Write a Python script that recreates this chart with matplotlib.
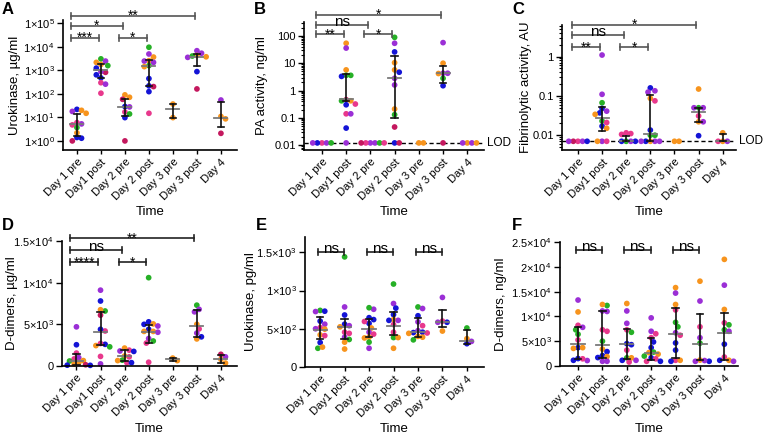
import numpy as np
import matplotlib
matplotlib.use('Agg')
import matplotlib.pyplot as plt
import matplotlib.transforms as mtransforms
from matplotlib.ticker import LogLocator, NullFormatter

plt.rcParams['font.family'] = ['Liberation Sans', 'DejaVu Sans']
plt.rcParams['mathtext.default'] = 'regular'

days = ['Day 1 pre', 'Day1 post', 'Day 2 pre', 'Day 2 post', 'Day 3 pre', 'Day 3 post', 'Day 4']

# one colour per subject
palette = {'B': '#1414d6', 'O': '#f7941d', 'G': '#26b026', 'P': '#9b2fd6',
           'M': '#e8388c', 'R': '#c4185e'}
nan = np.nan

# A - urokinase ug/ml (log)
a_vals = [[22, 18, 15, 20, 5.3, 4.8, 6, 3.7, 2.2, 1.3, 1.4, 1.0],
          [3100, 1800, 2200, 2500, 1250, 1600, 830, 900, 650, 480, 300, 260, 107],
          [91, 72, 59, 29, 28, 17, 14, 9.8, 1.0],
          [9700, 3700, 5000, 2600, 2200, 2500, 1600, 1450, 450, 220, 205, 125, 15],
          [37, 9.8],
          [6900, 5400, 4300, 4100, 3600, 3800, 890, 163],
          [55, 11, 8.7, 2.1]]
a_cols = ['BPOOPMMGOBBR', 'GOOPBGRPBBMPM', 'OORBPMGBR', 'GOPOPPGOBBRBM', 'OO', 'PPOGPOBR', 'POOR']
a_med = [5.1, 1000, 28, 1600, 23, 3900, 9.8]
a_q1 = [1.6, 470, 11.5, 220, 9.8, 1550, 3.8]
a_q3 = [14, 1800, 62, 2800, 37, 4800, 44]
a_sig = [(0, 1, '***', 0), (2, 3, '*', 0), (0, 2, '*', 1), (0, 5, '**', 2)]

# B - PA activity ng/ml (log), LOD 0.012
b_lod = 0.012
b_vals = [[0.012] * 5,
          [54, 36, 5.7, 3.6, 3.6, 3.3, 0.46, 0.42, 0.42, 0.32, 0.30, 0.14, 0.14, 0.042, 0.012],
          [0.012] * 6,
          [89, 54, 26, 10.5, 5.7, 4.7, 2.8, 1.6, 0.21, 0.13, 0.046, 0.012, 0.012],
          [0.012] * 2,
          [57, 10, 4.3, 4.3, 4.2, 2.8, 1.5, 0.012],
          [0.012] * 4]
b_cols = ['MPBGP', 'OPOGGBROGMBMPBP', 'PPMGRM', 'GPBOOBPPOGRBR', 'OO', 'POPPOGBR', 'OPPO']
b_med = [nan, 0.48, nan, 3, nan, 4.4, nan]
b_q1 = [nan, 0.4, nan, 0.1, nan, 1.9, nan]
b_q3 = [nan, 4, nan, 18.5, nan, 8, nan]
b_sig = [(0, 1, '**', 0), (2, 3, '*', 0), (0, 2, 'ns', 1), (0, 5, '*', 2)]

# C - fibrinolytic activity AU (log), LOD 0.007
c_lod = 0.007
c_vals = [[0.007] * 5,
          [1.1, 0.11, 0.067, 0.048, 0.041, 0.037, 0.034, 0.023, 0.021, 0.017, 0.015, 0.007, 0.007, 0.007],
          [0.007, 0.007, 0.0105, 0.011, 0.0115, 0.007, 0.007],
          [0.16, 0.135, 0.125, 0.087, 0.075, 0.0135, 0.010, 0.010, 0.007, 0.007, 0.007, 0.007, 0.007],
          [0.007] * 2,
          [0.15, 0.05, 0.05, 0.05, 0.031, 0.022, 0.022, 0.0097],
          [0.0115, 0.007, 0.007, 0.007]]
c_cols = ['MPRBP', 'PPGBPBOGMBOPMO', 'GPMMMBB', 'BPPOMBGGOPBPP', 'OO', 'OGPPMOPB', 'OOPM']
c_med = [nan, 0.028, 0.007, 0.011, nan, 0.039, 0.007]
c_q1 = [nan, 0.013, 0.007, 0.007, nan, 0.022, 0.007]
c_q3 = [nan, 0.053, 0.0097, 0.105, nan, 0.05, 0.0105]
c_sig = [(0, 1, '**', 0), (2, 3, '*', 0), (0, 2, 'ns', 1), (0, 5, '*', 2)]

# D - D-dimers ug/ml
d_vals = [[4700, 2550, 1550, 1000, 850, 650, 400, 600, 250, 150, 80, 100],
          [9100, 7800, 6600, 6750, 6100, 4200, 4400, 2450, 2600, 2300, 2700, 1150, 250],
          [1900, 2150, 1800, 1750, 1100, 1200, 700, 650, 400, 400],
          [10600, 5300, 5050, 5000, 4800, 4400, 4150, 4150, 4050, 3300, 3000, 2750, 450],
          [650, 950],
          [7300, 6800, 6500, 5000, 4450, 3950, 3250, 3500],
          [1100, 1400, 800, 350]]
d_cols = ['PBMPMOOGORBB', 'PBGORMBOBGMMP', 'MOPBMOGOMB', 'GBOBPBOOPPGMM', 'OO', 'GPPOMPOB', 'PROO']
d_med = [600, 4100, 1250, 4100, 800, 4750, 880]
d_q1 = [80, 2570, 560, 2770, 650, 3450, 400]
d_q3 = [1490, 6500, 1890, 4900, 950, 6670, 1290]
d_sig = [(0, 1, '****', 0), (2, 3, '*', 0), (0, 2, 'ns', 1), (0, 5, '**', 2)]

# E - urokinase pg/ml
e_vals = [[740, 725, 730, 600, 560, 515, 500, 495, 420, 410, 320, 245, 260],
          [1440, 785, 680, 560, 540, 525, 455, 440, 390, 360, 325, 235],
          [755, 775, 645, 620, 570, 595, 510, 455, 430, 390, 380, 325, 245],
          [1085, 830, 770, 685, 620, 610, 610, 555, 455, 385, 385, 245],
          [785, 765, 670, 590, 540, 475, 455, 450, 445, 440, 400, 390, 355],
          [910, 585, 600, 585, 470],
          [510, 370, 305, 335]]
e_cols = ['GPBBPMPOOMBGO', 'GPBBPOMMPGOO', 'PGBBBMOPMOOGP', 'GPBBOPBMMGOO', 'GPBPMPBBMOOOG', 'PBMPO', 'GOBP']
e_med = [483, 517, 496, 539, 455, 590, 336]
e_q1 = [366, 360, 388, 422, 390, 521, 306]
e_q3 = [659, 625, 625, 720, 645, 746, 478]
e_sig = [(0, 1, 'ns', 0), (2, 3, 'ns', 0), (4, 5, 'ns', 0)]

# F - D-dimers ng/ml
f_vals = [[13300, 10900, 8200, 7800, 7300, 6400, 5250, 3700, 3700, 3550, 1500, 1150, 1100, 1450],
          [12200, 12400, 11000, 11100, 7300, 7000, 5000, 3400, 2900, 2100, 1900, 1700, 950, 950],
          [12600, 11100, 8600, 7300, 6800, 4300, 4500, 3200, 1650, 1650, 800, 1150, 1150],
          [9700, 7000, 6500, 5700, 4850, 3700, 2800, 2700, 2000, 2400, 1650, 1450, 950, 950],
          [15800, 14700, 12400, 11300, 8800, 7900, 6700, 6200, 4650, 3200, 1150, 1150, 950],
          [17100, 13100, 7900, 5700, 4600, 1200, 950, 950, 1100],
          [21500, 16300, 11400, 8700, 8300, 7300, 7000, 4400, 1800, 1150, 1150, 950]]
f_cols = ['POMPGGMBOOBBPM', 'GOPPMMGOBBOBPP', 'OPPMGBBMGOMBP', 'PPMMBBGOGOBMMB', 'OPOMGGPMBBMOB', 'OPMPGOPBP', 'OPOMGGPBMOBP']
f_med = [4370, 4230, 4370, 2620, 6380, 4500, 6720]
f_q1 = [1500, 1680, 1480, 1280, 1610, 1140, 1140]
f_q3 = [7900, 11000, 7530, 5650, 11690, 10550, 10680]
f_sig = [(0, 1, 'ns', 0), (2, 3, 'ns', 0), (4, 5, 'ns', 0)]

W, H = 766, 434
fig = plt.figure(figsize=(W / 100, H / 100), dpi=100)


def px_axes(left, top, right, bottom):
    return fig.add_axes([left / W, 1 - bottom / H, (right - left) / W, (bottom - top) / H])


def swarm_x(ax, i, vals, d=4.6):
    # simple beeswarm in pixel space
    pts = ax.transData.transform(np.column_stack([np.full(len(vals), float(i)), vals]))
    ys = pts[:, 1]
    ppu = ax.transData.transform((1, 1))[0] - ax.transData.transform((0, 1))[0]
    offs = np.zeros(len(vals))
    placed = []
    for k in np.argsort(-ys, kind='stable'):
        best = None
        for step in range(60):
            for sgn in ([0] if step == 0 else [1, -1]):
                o = sgn * step * d * 0.5
                if all((o - po) ** 2 + (ys[k] - py) ** 2 >= d * d for po, py in placed):
                    best = o
                    break
            if best is not None:
                break
        offs[k] = best
        placed.append((best, ys[k]))
    return i + offs / ppu


def bracket(ax, x1, x2, yf, text, color):
    tr = mtransforms.blended_transform_factory(ax.transData, ax.transAxes)
    h = 3.0 / (ax.get_position().height * H)
    ax.plot([x1, x2], [yf, yf], transform=tr, color=color, lw=1.2, clip_on=False)
    ax.plot([x1, x1], [yf - h, yf + h], transform=tr, color=color, lw=1.2, clip_on=False)
    ax.plot([x2, x2], [yf - h, yf + h], transform=tr, color=color, lw=1.2, clip_on=False)
    if text == 'ns':
        ax.annotate(text, ((x1 + x2) / 2, yf), xycoords=tr, xytext=(0, -0.5),
                    textcoords='offset points', ha='center', va='baseline', fontsize=11)
    else:
        ax.annotate(text, ((x1 + x2) / 2, yf), xycoords=tr, xytext=(0, -3),
                    textcoords='offset points', ha='center', va='baseline', fontsize=10)


def panel(ax, vals, cols, med, q1, q3, sig, levels, log, ylim, xlim, yticks, ylabels,
          ylabel, lab_x, sig_color, wide, lod=None):
    if log:
        ax.set_yscale('log')
    ax.set_ylim(*ylim)
    ax.set_xlim(*xlim)
    for s in ['top', 'right']:
        ax.spines[s].set_visible(False)
    for s in ['left', 'bottom']:
        ax.spines[s].set_linewidth(1.2)
    ax.set_yticks(yticks)
    ax.set_yticklabels(ylabels)
    if log:
        ax.yaxis.set_minor_locator(LogLocator(base=10, subs=np.arange(2, 10)))
        ax.yaxis.set_minor_formatter(NullFormatter())
        ax.tick_params(axis='y', which='minor', length=2, width=0.8)
    ax.set_xticks(range(len(days)))
    ax.set_xticklabels(days, rotation=45, ha='right', rotation_mode='anchor')
    ax.tick_params(axis='x', length=3, width=1.0, labelsize=8, pad=2)
    ax.tick_params(axis='y', which='major', length=4, width=1.0, labelsize=8, pad=2)
    ax.set_ylabel(ylabel, fontsize=9.5)
    ax.yaxis.set_label_coords(lab_x, 0.5)
    ax.set_xlabel('Time', fontsize=9.5)
    if lod is not None:
        ax.axhline(lod, color='black', lw=1.0, ls=(0, (3, 2)), zorder=1)
        tr = mtransforms.blended_transform_factory(ax.transAxes, ax.transData)
        ax.text(1.018, lod, 'LOD', transform=tr, ha='left', va='center', fontsize=8.5)
    for i, (v, c) in enumerate(zip(vals, cols)):
        xs = swarm_x(ax, i, v)
        ax.scatter(xs, v, s=17, c=[palette[k] for k in c], linewidths=0, zorder=2, clip_on=False)
        if not np.isnan(med[i]):
            ax.plot([i - 0.27, i + 0.27], [med[i], med[i]], color='#7a7a7a', lw=1.3, zorder=3)
            ax.plot([i, i], [q1[i], q3[i]], color='#111111', lw=1.2, zorder=3)
            for q in (q1[i], q3[i]):
                ax.plot([i - 0.13, i + 0.13], [q, q], color='#111111', lw=1.2, zorder=3)
    for i, j, t, lev in sig:
        if wide:
            bracket(ax, i - 0.25, j - 0.1, levels[lev], t, sig_color)
        else:
            bracket(ax, i - 0.1, j - 0.02, levels[lev], t, sig_color)


def sci(m, e):
    return '$%s×10^{%d}$' % (m, e)


axA = px_axes(63, 20, 237, 150)
panel(axA, a_vals, a_cols, a_med, a_q1, a_q3, a_sig, [0.864, 0.956, 1.033], True,
      (0.41, 1.4e5), (-0.58, 6.67), [1, 10, 100, 1e3, 1e4, 1e5],
      [sci('1', k) for k in range(6)], 'Urokinase, µg/ml', -0.24, '#555555', True)

axB = px_axes(304, 22, 484, 150)
panel(axB, b_vals, b_cols, b_med, b_q1, b_q3, b_sig, [0.904, 0.977, 1.055], True,
      (0.0066, 325), (-0.74, 6.69), [0.01, 0.1, 1, 10, 100],
      ['0.01', '0.1', '1', '10', '100'], 'PA activity, ng/ml', -0.2, '#555555', True, b_lod)

axC = px_axes(562, 25, 736, 150)
panel(axC, c_vals, c_cols, c_med, c_q1, c_q3, c_sig, [0.82, 0.92, 1.0], True,
      (0.0042, 6.4), (-0.66, 6.55), [0.01, 0.1, 1],
      ['0.01', '0.1', '1'], 'Fibrinolytic activity, AU', -0.17, '#555555', True, c_lod)

axD = px_axes(62, 241, 237, 366)
panel(axD, d_vals, d_cols, d_med, d_q1, d_q3, d_sig, [0.83, 0.929, 1.023], False,
      (0, 15000), (-0.6, 6.67), [0, 5000, 10000, 15000],
      ['0', sci('5', 3), sci('1', 4), sci('1.5', 4)], 'D-dimers, µg/ml', -0.25, '#222222', True)

axE = px_axes(305, 237, 484, 367)
panel(axE, e_vals, e_cols, e_med, e_q1, e_q3, e_sig, [0.882], False,
      (0, 1700), (-0.62, 6.7), [0, 500, 1000, 1500],
      ['0', sci('5', 2), sci('1', 3), sci('1.5', 3)], 'Urokinase, pg/ml', -0.27, '#222222', False)

axF = px_axes(560, 242, 738, 366)
panel(axF, f_vals, f_cols, f_med, f_q1, f_q3, f_sig, [0.932], False,
      (0, 25000), (-0.74, 6.56), [0, 5000, 10000, 15000, 20000, 25000],
      ['0', sci('5', 3), sci('1', 4), sci('1.5', 4), sci('2', 4), sci('2.5', 4)],
      'D-dimers, ng/ml', -0.3, '#222222', False)

# "Time" labels, placed from pixel rows of the reference
for ax, bottom, top, yl in [(axA, 150, 20, 212), (axB, 150, 22, 212), (axC, 150, 25, 212),
                            (axD, 366, 241, 429), (axE, 367, 237, 429), (axF, 366, 242, 429)]:
    ax.xaxis.set_label_coords(0.5, -(yl - bottom) / (bottom - top))
    ax.xaxis.label.set_va('center')

for letter, x, y in [('A', 2, 9), ('B', 254, 9), ('C', 512, 9),
                     ('D', 2, 225), ('E', 256, 225), ('F', 512, 225)]:
    fig.text(x / W, 1 - y / H, letter, fontsize=12, fontweight='bold', va='center', ha='left')

fig.savefig('out.png', dpi=100)
